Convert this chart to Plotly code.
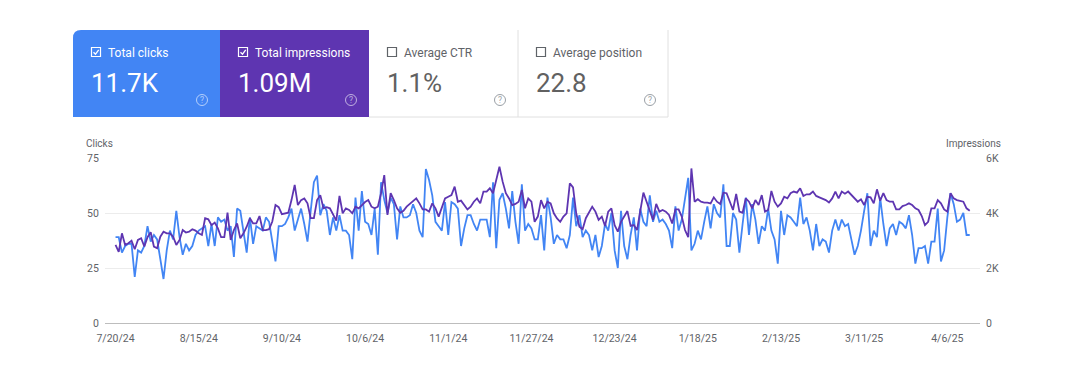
import pandas as pd
import plotly.graph_objects as go

# ---------------- data ----------------
start_date = "2024-07-20"

clicks_part1 = [39,39,32,35,36,36,21,33,32,35, 44,37,40,38,29,20,33,42,38,51,
                39,31,36,33,35,40,42,43,44,35, 45,35,48,46,47,42,44,30,52,51,
                42,32,48,36,44,43,42,48,46,37, 28,44,44,45,48,52,42,47,52,45]
clicks_part2 = [37,51,64,67,49,54,51,40,48,42, 49,42,42,40,29,57,42,60,46,45,
                40,52,31,64,56,50,57,54,38,53, 48,48,49,54,50,42,39,70,65,58,
                46,44,42,55,40,55,54,52,35,43, 49,49,45,42,47,47,47,39,64,34,
                56,59,52,43,60,46,36,63]
clicks_part3 = [42,45,43,38,38,49,33,57,48,36, 40,38,38,34,40,57,44,49,39,42,40,
                33,40,30,35,45,42,50,33,25,51, 35,29,40,48,33,52,46,44,58,46,
                51,46,47,45,42,34,53,42,47,56, 66,33,36,42,38,46,53,43,54,50,
                48,63,35,35,50,47,32,45,57]
clicks_part4 = [40,54,47,36,44,42,52,42,38,27, 51,40,49,48,46,44,57,45,48,42,
                33,45,35,38,37,32,42,47,42,47, 44,45,38,31,35,42,51,59,35,42,39,
                57,45,35,43,45,40,46,45,43,49, 40,27,34,34,35,27,37,37,52,28,
                33,48,59,54,46,47,50,40,40]

impressions_part1 = [2840,2590,3260,2840,2900,2990,2680,3020,3080,2780,
                     3120,3300,2780,2720,3140,3320,3260,3260,3140,2840,
                     3020,3380,3290,3320,3410,3360,3260,3200,3810,3770,
                     3560,3650,3440,3120,3120,4010,3020,3380,3620,3080,
                     3260,3500,3810,3620,3620,3890,3380,3380,3410,3690,
                     4290,4210,3960,3990,4010,4470,5020,4290,4470,4530]
impressions_part2 = [4350,3810,3810,4470,4650,4170,4210,4170,3930,3720,
                     4620,3990,4170,4110,3990,4230,4170,4290,4400,4470,
                     4230,4170,4230,4720,5380,3930,4720,4470,4170,4010,
                     4080,4230,4330,4410,4530,4350,4130,4130,4050,4350,
                     4170,3870,4230,4530,4590,4650,4960,4410,4450,4290,
                     4130,4230,4410,4530,4350,4780,4780,4900,4720,5200,
                     5680,5140,4720,4530,4290,4330,4410,4840]
impressions_part3 = [4170,4530,4410,3680,3870,4470,4170,4410,4350,3990,
                     3800,3680,3870,3990,5080,4930,3990,3500,3410,3810,4000,
                     4230,4050,3750,3870,3530,4050,4170,3560,3320,3680,
                     3870,4070,3530,3560,3380,4110,4740,4410,4050,3750,
                     4330,4050,4110,4050,3930,3620,4130,4130,3870,3380,
                     3120,5620,4410,4500,4410,4380,4380,4350,4570,4410,
                     4330,4740,4720,4380,4110,4690,4050,4010,4530]
impressions_part4 = [4410,4170,4470,4290,4650,4050,4110,4800,4410,4230,
                     4350,4590,4530,4720,4780,4740,4900,4620,4680,4680,
                     4780,4620,4570,4530,4470,4380,4530,4780,4530,4780,
                     4700,4780,4650,4500,4410,4500,4290,4590,4570,4350,4860,
                     4450,4720,4470,4410,4410,4130,4130,4250,4290,4350,
                     4290,4170,4110,3890,3560,3680,4170,4170,4470,4350,
                     4130,4050,4720,4530,4470,4450,4410,4170,4080]

clicks = clicks_part1 + clicks_part2 + clicks_part3 + clicks_part4
impressions = impressions_part1 + impressions_part2 + impressions_part3 + impressions_part4

x_tick_dates = ["2024-07-20","2024-08-15","2024-09-10","2024-10-06","2024-11-01",
                "2024-11-27","2024-12-23","2025-01-18","2025-02-13","2025-03-11","2025-04-06"]
x_tick_labels = ["7/20/24","8/15/24","9/10/24","10/6/24","11/1/24","11/27/24",
                 "12/23/24","1/18/25","2/13/25","3/11/25","4/6/25"]
y1_ticks = [0, 25, 50, 75]
y2_ticks = [0, 2000, 4000, 6000]
y2_labels = ["0", "2K", "4K", "6K"]

card_labels = ["Total clicks", "Total impressions", "Average CTR", "Average position"]
card_values = ["11.7K", "1.09M", "1.1%", "22.8"]
card_checked = [True, True, False, False]

# ---------------- styling ----------------
BLUE = "#4285f4"
PURPLE = "#5e35b1"
GREY = "#5f6368"
FONT = "Roboto"

dates_c = pd.date_range(start_date, periods=len(clicks), freq="D")
dates_i = pd.date_range(start_date, periods=len(impressions), freq="D")

BODY = 8                      # default page margin of the html body
W, H = 1090 - 2 * BODY, 382 - 2 * BODY
# plot area in window pixels
L, R, T, B = 105, 980, 158, 323


def fx(x):
    return (x - L) / (R - L)


def fy(y):
    return (B - y) / (B - T)


fig = go.Figure()
fig.add_trace(go.Scatter(x=dates_i, y=impressions, mode="lines", yaxis="y2",
                         line=dict(color=PURPLE, width=1.8), name="Impressions"))
fig.add_trace(go.Scatter(x=dates_c, y=clicks, mode="lines",
                         line=dict(color=BLUE, width=1.8), name="Clicks"))

shapes = []
annotations = []

card_x = [73, 220, 369, 518, 668]
card_top, card_bot = 30, 117
card_fill = [BLUE, PURPLE, "white", "white"]

for i in range(4):
    x0, x1 = card_x[i], card_x[i + 1]
    if i == 0:
        r = 8
        path = (f"M {fx(x0)},{fy(card_bot)} L {fx(x0)},{fy(card_top + r)} "
                f"Q {fx(x0)},{fy(card_top)} {fx(x0 + r)},{fy(card_top)} "
                f"L {fx(x1)},{fy(card_top)} L {fx(x1)},{fy(card_bot)} Z")
        shapes.append(dict(type="path", xref="paper", yref="paper", path=path,
                           fillcolor=card_fill[i], line=dict(width=0), layer="below"))
    else:
        shapes.append(dict(type="rect", xref="paper", yref="paper",
                           x0=fx(x0), x1=fx(x1), y0=fy(card_bot), y1=fy(card_top),
                           fillcolor=card_fill[i], line=dict(width=0), layer="below"))
    txt_col = "white" if card_checked[i] else GREY
    # checkbox
    cb_x0, cb_y0 = x0 + 18.5, 47.5
    shapes.append(dict(type="rect", xref="paper", yref="paper",
                       x0=fx(cb_x0), x1=fx(cb_x0 + 9), y0=fy(cb_y0 + 9), y1=fy(cb_y0),
                       line=dict(color=txt_col, width=1.2), fillcolor="rgba(0,0,0,0)"))
    if card_checked[i]:
        shapes.append(dict(type="path", xref="paper", yref="paper",
                           path=(f"M {fx(cb_x0 + 2)},{fy(cb_y0 + 4.7)} "
                                 f"L {fx(cb_x0 + 4)},{fy(cb_y0 + 6.7)} "
                                 f"L {fx(cb_x0 + 7.2)},{fy(cb_y0 + 2.3)}"),
                           line=dict(color=txt_col, width=1.3)))
    annotations.append(dict(x=fx(x0 + 33), y=fy(52.5), xref="paper", yref="paper",
                            text=card_labels[i], showarrow=False, xanchor="left",
                            yanchor="middle",
                            font=dict(family=FONT, size=12, color=txt_col)))
    annotations.append(dict(x=fx(x0 + 16), y=fy(83), xref="paper", yref="paper",
                            text=card_values[i], showarrow=False, xanchor="left",
                            yanchor="middle",
                            font=dict(family=FONT, size=26,
                                      color=txt_col if card_checked[i] else "#616161")))
    # help icon
    qx, qy = x1 - 18, 100
    qcol = "rgba(255,255,255,0.6)" if card_checked[i] else "#9aa0a6"
    shapes.append(dict(type="circle", xref="paper", yref="paper",
                       x0=fx(qx - 5.5), x1=fx(qx + 5.5), y0=fy(qy + 5.5), y1=fy(qy - 5.5),
                       line=dict(color=qcol, width=1)))
    annotations.append(dict(x=fx(qx), y=fy(qy), xref="paper", yref="paper",
                            text="?", showarrow=False, xanchor="center", yanchor="middle",
                            font=dict(family=FONT, size=8.5, color=qcol)))

# borders of white cards
shapes.append(dict(type="line", xref="paper", yref="paper", x0=fx(518), x1=fx(518),
                   y0=fy(card_bot), y1=fy(card_top), line=dict(color="#e0e0e0", width=1)))
shapes.append(dict(type="line", xref="paper", yref="paper", x0=fx(668), x1=fx(668),
                   y0=fy(card_bot), y1=fy(card_top), line=dict(color="#e0e0e0", width=1)))
shapes.append(dict(type="line", xref="paper", yref="paper", x0=fx(369), x1=fx(668),
                   y0=fy(card_bot), y1=fy(card_bot), line=dict(color="#e0e0e0", width=1)))

# axis titles
annotations.append(dict(x=fx(84), y=fy(143), xref="paper", yref="paper", text="Clicks",
                        showarrow=False, xanchor="left", yanchor="middle",
                        font=dict(family=FONT, size=10, color=GREY)))
annotations.append(dict(x=fx(1003), y=fy(143), xref="paper", yref="paper", text="Impressions",
                        showarrow=False, xanchor="right", yanchor="middle",
                        font=dict(family=FONT, size=10, color=GREY)))

fig.update_layout(
    width=W, height=H, autosize=False,
    margin=dict(l=L - BODY, r=(W + BODY) - R, t=T - BODY, b=(H + BODY) - B, pad=0),
    paper_bgcolor="white", plot_bgcolor="white",
    showlegend=False,
    shapes=shapes, annotations=annotations,
    font=dict(family=FONT, color=GREY),
    xaxis=dict(type="date",
               range=["2024-07-16 17:00", "2025-04-16 05:00"],
               tickvals=x_tick_dates, ticktext=x_tick_labels,
               showgrid=False, zeroline=False,
               showline=True, linecolor="#bdbdbd", linewidth=1,
               ticks="outside", ticklen=5, tickcolor="rgba(0,0,0,0)",
               tickfont=dict(family=FONT, size=10.5, color=GREY)),
    yaxis=dict(range=[0, 75], tickvals=y1_ticks, showgrid=True, gridcolor="#ececec",
               zeroline=False, showline=False,
               ticks="outside", ticklen=3, tickcolor="rgba(0,0,0,0)",
               tickfont=dict(family=FONT, size=10.5, color=GREY)),
    yaxis2=dict(range=[0, 6000], tickvals=y2_ticks, ticktext=y2_labels,
                overlaying="y", side="right", showgrid=False, zeroline=False,
                ticks="outside", ticklen=3, tickcolor="rgba(0,0,0,0)",
                tickfont=dict(family=FONT, size=10.5, color=GREY)),
)

fig.write_html("out.html")
